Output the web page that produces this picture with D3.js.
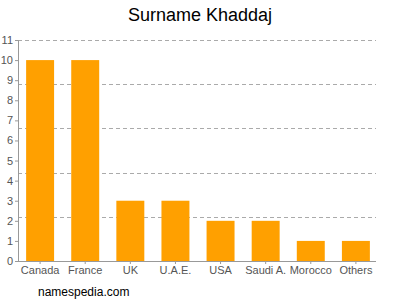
<!DOCTYPE html>
<html>
<head>
<meta charset="utf-8">
<script src="https://cdn.jsdelivr.net/npm/d3@7"></script>
<style>
  body { margin: 0; background: #fff; }
  text { font-family: "Liberation Sans", Arial, sans-serif; }
</style>
</head>
<body>
<script>
var countries = ["Canada", "France", "UK", "U.A.E.", "USA", "Saudi A.", "Morocco", "Others"];
var counts = [10, 10, 3, 3, 2, 2, 1, 1];
var yTicks = [0, 1, 2, 3, 4, 5, 6, 7, 8, 9, 10, 11];
var gridVals = [2.2, 4.4, 6.6, 8.8, 11];

var width = 400, height = 300;
var plotLeft = 18, plotRight = 378, plotTop = 40, plotBottom = 261;

var svg = d3.select("body").append("svg")
    .attr("width", width)
    .attr("height", height);

var x = d3.scaleBand()
    .domain(countries)
    .range([plotLeft, plotRight])
    .paddingInner(0.38)
    .paddingOuter(0.18);

var y = d3.scaleLinear()
    .domain([0, 11])
    .range([plotBottom, plotTop]);

// dashed grid
svg.selectAll(".grid")
    .data(gridVals)
    .enter().append("line")
    .attr("x1", plotLeft)
    .attr("x2", 376)
    .attr("y1", d => Math.round(y(d)) + 0.5)
    .attr("y2", d => Math.round(y(d)) + 0.5)
    .attr("stroke", "#aaa")
    .attr("stroke-dasharray", "4,3");

// bars
svg.selectAll(".bar")
    .data(countries)
    .enter().append("rect")
    .attr("x", d => x(d))
    .attr("width", x.bandwidth())
    .attr("y", (d, i) => y(counts[i]))
    .attr("height", (d, i) => plotBottom - y(counts[i]))
    .attr("fill", "#ffa000");

// y axis
var yAxis = svg.append("g")
    .attr("transform", "translate(" + plotLeft + ",0)")
    .call(d3.axisLeft(y).tickValues(yTicks).tickSize(3).tickPadding(2));
yAxis.select(".domain").attr("stroke", "#999");
yAxis.selectAll(".tick line").attr("stroke", "#999");
yAxis.selectAll("text").attr("fill", "#555").style("font-size", "11px");

// x axis
var xAxis = svg.append("g")
    .attr("transform", "translate(0," + plotBottom + ")")
    .call(d3.axisBottom(x).tickSize(3).tickSizeOuter(0).tickPadding(2));
xAxis.select(".domain").attr("stroke", "#999").attr("d", "M" + plotLeft + ",0.5H376");
xAxis.selectAll(".tick line").attr("stroke", "#999");
xAxis.selectAll("text").attr("fill", "#555").style("font-size", "11px");

// title
svg.append("text")
    .attr("x", 200)
    .attr("y", 21)
    .attr("text-anchor", "middle")
    .style("font-size", "18px")
    .attr("fill", "#000")
    .text("Surname Khaddaj");

svg.append("text")
    .attr("x", 38)
    .attr("y", 296)
    .style("font-size", "12px")
    .attr("fill", "#000")
    .text("namespedia.com");
</script>
</body>
</html>
